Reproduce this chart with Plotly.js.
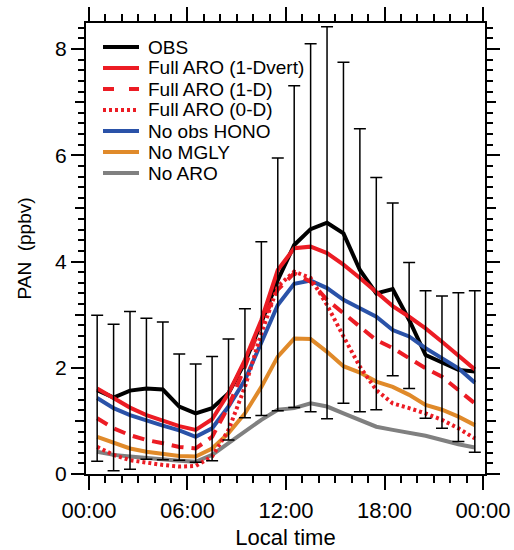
<!DOCTYPE html>
<html>
<head>
<meta charset="utf-8">
<script src="https://cdn.plot.ly/plotly-3.0.1.min.js"></script>
<style>html,body{margin:0;padding:0;background:#fff;}#chart{width:514px;height:550px;}</style>
</head>
<body>
<div id="chart"></div>
<script>
// Local time (hours, half-hour bins)
const hours = [0.5,1.5,2.5,3.5,4.5,5.5,6.5,7.5,8.5,9.5,10.5,11.5,12.5,13.5,14.5,15.5,16.5,17.5,18.5,19.5,20.5,21.5,22.5,23.5];

// Observed PAN (ppbv) and its spread
const obs      = [1.58,1.44,1.57,1.61,1.59,1.27,1.14,1.24,1.52,2.10,2.85,3.65,4.31,4.61,4.73,4.53,3.84,3.40,3.48,2.90,2.24,2.11,1.96,1.93];
const obsHigh  = [2.99,2.82,3.06,2.93,2.86,2.26,2.07,2.21,2.54,3.11,4.37,5.95,7.31,8.10,8.42,7.75,6.50,5.58,5.10,3.98,3.45,3.35,3.41,3.45];
const obsLow   = [0.24,0.06,0.09,0.28,0.27,0.26,0.22,0.25,0.64,1.06,1.10,1.19,1.25,1.17,1.04,1.33,1.17,1.21,1.85,1.61,1.05,0.86,0.61,0.41];

// Model runs
const fullVert = [1.61,1.43,1.25,1.11,1.00,0.90,0.83,1.03,1.52,2.15,2.90,3.84,4.25,4.28,4.16,3.94,3.69,3.43,3.16,2.96,2.74,2.49,2.24,1.97];
const full1D   = [1.05,0.86,0.73,0.64,0.58,0.51,0.48,0.70,1.27,2.02,2.84,3.47,3.78,3.62,3.28,3.03,2.77,2.52,2.37,2.18,1.99,1.83,1.58,1.33];
const full0D   = [0.51,0.36,0.26,0.21,0.17,0.14,0.15,0.33,0.83,1.64,2.65,3.53,3.81,3.69,3.18,2.59,2.02,1.58,1.33,1.24,1.14,1.02,0.86,0.67];
const noHONO   = [1.43,1.24,1.11,1.00,0.91,0.82,0.70,0.86,1.27,1.77,2.46,3.18,3.58,3.64,3.50,3.28,3.12,2.96,2.71,2.59,2.37,2.18,1.99,1.72];
const noMGLY   = [0.70,0.58,0.48,0.42,0.38,0.34,0.33,0.48,0.77,1.14,1.64,2.21,2.55,2.54,2.30,2.03,1.91,1.74,1.64,1.49,1.30,1.21,1.08,0.92];
const noARO    = [0.42,0.36,0.33,0.30,0.28,0.25,0.23,0.36,0.58,0.80,1.02,1.21,1.24,1.33,1.27,1.14,1.02,0.89,0.83,0.78,0.72,0.64,0.56,0.50];

const seriesNames = ["OBS","Full ARO (1-Dvert)","Full ARO (1-D)","Full ARO (0-D)","No obs HONO","No MGLY","No ARO"];

const xTickVals = [0,6,12,18,24];
const xTickText = ["00:00","06:00","12:00","18:00","00:00"];
const yTickVals = [0,2,4,6,8];
const yMidTicks = [1,3,5,7];

const errPlus  = obsHigh.map((v,i)=>v-obs[i]);
const errMinus = obs.map((v,i)=>v-obsLow[i]);

const RED = "#ec1c24", BLUE = "#2a52a8", ORANGE = "#e08a2a", GRAY = "#808080";
const LW = 4;

// styles per series (same order as seriesNames)
const styles = [
  {color:"#000", width:LW},
  {color:RED, width:LW},
  {color:RED, width:LW, dash:"12px,8px"},
  {color:RED, width:LW, dash:"3px,3px"},
  {color:BLUE, width:LW},
  {color:ORANGE, width:LW},
  {color:GRAY, width:LW}
];
const seriesData = [obs, fullVert, full1D, full0D, noHONO, noMGLY, noARO];
const drawOrder = [0,6,5,4,3,2,1];

const traces = [
  {x: hours, y: obs, type:"scatter", mode:"markers", marker:{size:0.1, color:"rgba(0,0,0,0)"},
   error_y:{type:"data", symmetric:false, array:errPlus, arrayminus:errMinus, color:"#000", thickness:1.5, width:6},
   showlegend:false, hoverinfo:"skip", yaxis:"y2"}
];
drawOrder.forEach(i => traces.push({x: hours, y: seriesData[i], name: seriesNames[i], type:"scatter", mode:"lines", line: styles[i], showlegend:false}));

// Hand-made legend (layout only)
const plotL = 86, plotW = 399, plotB = 474, plotH = 451;
const px2x = p => (p - plotL) / plotW;
const py2y = p => (plotB - p) / plotH;
const shapes = [], annotations = [];
const legendDash = [null, null, "11px,15px", "3px,3px", null, null, null];
seriesNames.forEach((nm, i) => {
  const yy = py2y(47 + 21 * i);
  const ln = Object.assign({}, styles[i]);
  if (legendDash[i]) ln.dash = legendDash[i];
  shapes.push({type:"line", xref:"paper", yref:"paper", x0:px2x(103), x1:px2x(139), y0:yy, y1:yy, line:ln});
  annotations.push({xref:"paper", yref:"paper", x:px2x(146), y:yy, xanchor:"left", yanchor:"middle",
                    text:nm, showarrow:false, font:{size:19}});
});

const FONT = "Liberation Sans, Arial, Helvetica, sans-serif";
const yRange = [0, 8.49];

const layout = {
  width:514, height:550,
  margin:{l:86, r:29, t:23, b:76},
  paper_bgcolor:"#fff", plot_bgcolor:"#fff",
  font:{family:FONT, color:"#000", size:21},
  showlegend:false,
  shapes: shapes, annotations: annotations,
  xaxis:{range:[-0.18,24.12], tickmode:"array", tickvals:xTickVals, ticktext:xTickText,
         ticks:"outside", ticklen:14, tickwidth:2, tickcolor:"#000",
         showline:true, linewidth:2, linecolor:"#000", mirror:"ticks",
         showgrid:false, zeroline:false, ticklabelstandoff:2, tickfont:{size:22},
         minor:{dtick:1, tick0:0, ticks:"outside", ticklen:7, tickwidth:2, tickcolor:"#000", showgrid:false},
         title:{text:"Local time", font:{size:22}, standoff:12}},
  yaxis:{range:yRange, tickmode:"array", tickvals:yTickVals,
         ticks:"outside", ticklen:13, tickwidth:2, tickcolor:"#000",
         showline:true, linewidth:2, linecolor:"#000", mirror:"ticks",
         showgrid:false, zeroline:false,
         minor:{dtick:0.2, tick0:0, ticks:"outside", ticklen:6, tickwidth:2, tickcolor:"#000", showgrid:false},
         title:{text:"PAN  (ppbv)", font:{size:19}, standoff:18}},
  yaxis2:{range:yRange, overlaying:"y", side:"left", tickmode:"array", tickvals:yMidTicks,
          ticks:"outside", ticklen:10, tickwidth:2, tickcolor:"#000",
          showticklabels:false, showline:false, mirror:"ticks", showgrid:false, zeroline:false}
};

Plotly.newPlot("chart", traces, layout, {displayModeBar:false, staticPlot:true});
</script>
</body>
</html>
